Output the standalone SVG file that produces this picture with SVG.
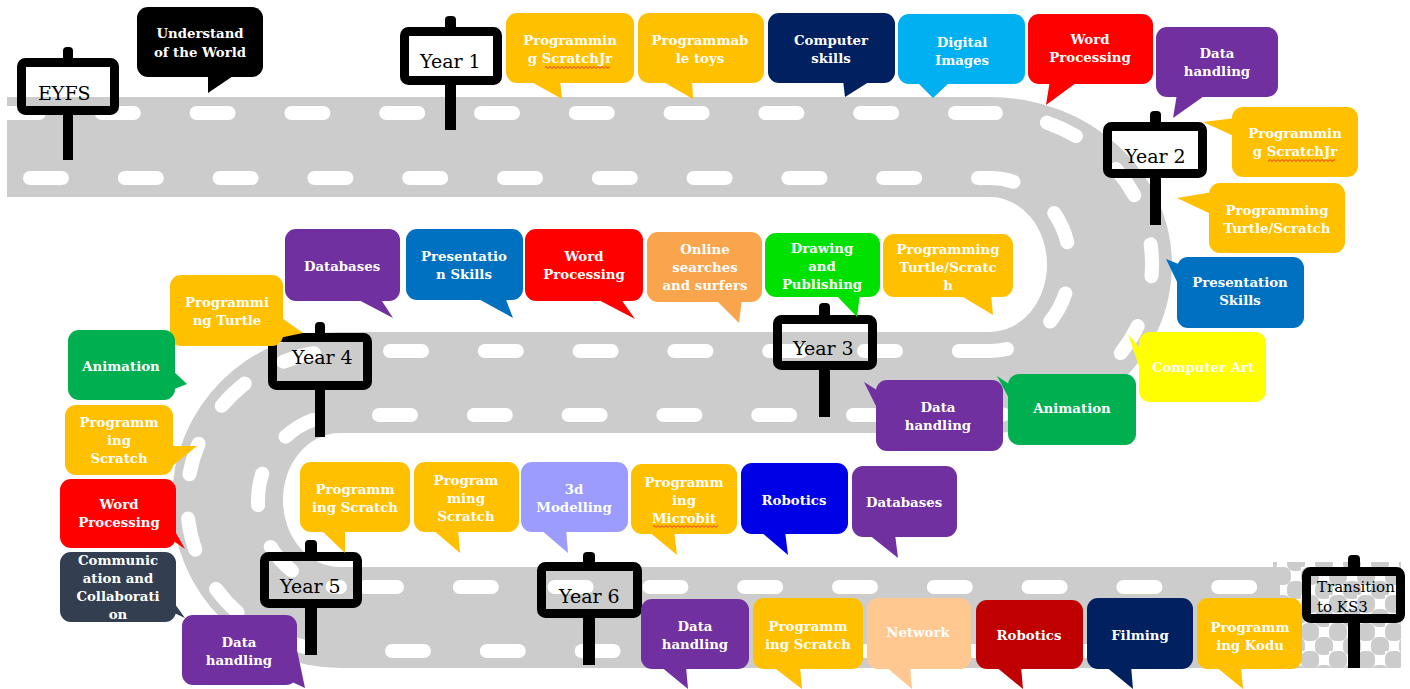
<svg xmlns="http://www.w3.org/2000/svg" width="1410" height="689" viewBox="0 0 1410 689">
  <style>
    .road { fill: #cccccc; }
    .dash { fill: none; stroke: #ffffff; stroke-width: 14; stroke-linecap: round; stroke-dasharray: 32 62.8; }
    .frame { fill: none; stroke: #000000; stroke-width: 9; }
    .post { fill: #000000; }
    .st { font-family: "DejaVu Serif", "Liberation Serif", serif; font-size: 19px; fill: #000000; }
    .bt { font-family: "DejaVu Serif", "Liberation Serif", serif; font-size: 13.3px; font-weight: bold; fill: #ffffff; text-anchor: middle; }
    .k { fill: #000000; }
    .yel { fill: #FFC000; }
    .navy { fill: #002060; }
    .sky { fill: #00B0F0; }
    .red { fill: #FF0000; }
    .pur { fill: #7030A0; }
    .blue { fill: #0070C0; }
    .lor { fill: #F9A54D; }
    .lime { fill: #00E100; }
    .grn { fill: #00B050; }
    .ylw { fill: #FFFF00; }
    .lav { fill: #9C9CFF; }
    .rbl { fill: #0000E6; }
    .pch { fill: #FFC891; }
    .dred { fill: #C00000; }
    .slate { fill: #333F50; }
    .spell { fill: url(#wavy); }
  </style>
  <defs>
    <clipPath id="roadClip">
      <path d="M7 97 H990 A182 168 0 0 1 990 433 H340 A57 67 0 0 0 340 567 H1280 V668 H340 A168 168 0 0 1 340 332 H990 A57 67.5 0 0 0 990 197 H7 Z"/>
    </clipPath>
    <pattern id="chk" x="1273" y="567" width="28" height="28" patternUnits="userSpaceOnUse">
      <rect x="0" y="0" width="18" height="18" rx="7" fill="#cccccc"/>
      <rect x="14" y="14" width="18" height="18" rx="7" fill="#cccccc"/>
      <rect x="-14" y="14" width="18" height="18" rx="7" fill="#cccccc"/>
      <rect x="14" y="-14" width="18" height="18" rx="7" fill="#cccccc"/>
    </pattern>
    <pattern id="wavy" x="0" y="0" width="4" height="3" patternUnits="userSpaceOnUse">
      <path d="M0 2.4 L2 0.6 L4 2.4" fill="none" stroke="#e8282d" stroke-width="0.9"/>
    </pattern>
  </defs>

  <rect width="1410" height="689" fill="#ffffff"/>

  <!-- the winding road -->
  <g id="road">
    <path class="road" d="M7 97 H990 A182 168 0 0 1 990 433 H340 A57 67 0 0 0 340 567 H1280 V668 H340 A168 168 0 0 1 340 332 H990 A57 67.5 0 0 0 990 197 H7 Z"/>
    <rect x="1273" y="562" width="128" height="106" fill="url(#chk)"/>
    <g clip-path="url(#roadClip)">
      <path class="dash" d="M7 113 H990"/>
      <path class="dash" d="M30 178 H990"/>
      <path class="dash" d="M990 113 A162 151 0 0 1 990 415" style="stroke-dasharray:32 52;stroke-dashoffset:26"/>
      <path class="dash" d="M990 178 A80 86.5 0 0 1 990 351" style="stroke-dasharray:32 52;stroke-dashoffset:8"/>
      <path class="dash" d="M390 351 H990"/>
      <path class="dash" d="M379 415 H990"/>
      <path class="dash" d="M340 351 A153 150 0 0 0 340 651" style="stroke-dasharray:32 44.5;stroke-dashoffset:50.5"/>
      <path class="dash" d="M340 415 A82 86 0 0 0 340 587" style="stroke-dasharray:32 44;stroke-dashoffset:48"/>
      <path class="dash" d="M365 587 H1275"/>
      <path class="dash" d="M392 651 H1275"/>
    </g>
  </g>

  <!-- signposts -->
  <g id="sign-eyfs">
    <rect class="post" x="63" y="47" width="10" height="16" rx="4"/>
    <rect class="post" x="63" y="110" width="10" height="50"/>
    <rect class="frame" x="21.5" y="62.5" width="93" height="48" rx="4"/>
    <text class="st" x="38" y="100">EYFS</text>
  </g>
  <g id="sign-year1">
    <rect class="post" x="445" y="16" width="11" height="16" rx="4"/>
    <rect class="post" x="445" y="80" width="11" height="50"/>
    <rect class="frame" x="404.5" y="31.5" width="93" height="49" rx="4"/>
    <text class="st" x="420" y="68">Year 1</text>
  </g>
  <g id="sign-year2">
    <rect class="post" x="1150" y="111" width="11" height="16" rx="4"/>
    <rect class="post" x="1150" y="173" width="11" height="52"/>
    <rect class="frame" x="1107.5" y="126.5" width="95" height="47" rx="4"/>
    <text class="st" x="1125" y="163">Year 2</text>
  </g>
  <g id="sign-year3">
    <rect class="post" x="819" y="303" width="11" height="16" rx="4"/>
    <rect class="post" x="819" y="365" width="11" height="52"/>
    <rect class="frame" x="777.5" y="319.5" width="95" height="46" rx="4"/>
    <text class="st" x="793" y="355">Year 3</text>
  </g>
  <g id="sign-year4">
    <rect class="post" x="315" y="322" width="10" height="16" rx="4"/>
    <rect class="post" x="315" y="385" width="10" height="52"/>
    <rect class="frame" x="272.5" y="337.5" width="95" height="48" rx="4"/>
    <text class="st" x="292" y="364">Year 4</text>
  </g>
  <g id="sign-year5">
    <rect class="post" x="305" y="540" width="12" height="16" rx="4"/>
    <rect class="post" x="305" y="603" width="12" height="52"/>
    <rect class="frame" x="264.5" y="556.5" width="93" height="47" rx="4"/>
    <text class="st" x="280" y="593">Year 5</text>
  </g>
  <g id="sign-year6">
    <rect class="post" x="583" y="552" width="12" height="16" rx="4"/>
    <rect class="post" x="583" y="613" width="12" height="52"/>
    <rect class="frame" x="541.5" y="566.5" width="96" height="47" rx="4"/>
    <text class="st" x="559" y="603">Year 6</text>
  </g>
  <g id="sign-ks3">
    <rect class="post" x="1348" y="555" width="12" height="16" rx="4"/>
    <rect class="post" x="1348" y="618" width="12" height="50"/>
    <rect class="frame" x="1306.5" y="571.5" width="94" height="47" rx="4"/>
    <text class="st" x="1317" y="592" style="font-size:15px">Transition</text>
    <text class="st" x="1317" y="612" style="font-size:15px">to KS3</text>
  </g>

  <!-- speech bubbles: EYFS and Year 1 -->
  <g id="eyfs-world" class="k">
    <rect x="137" y="7" width="126" height="70" rx="11"/>
    <polygon points="208,74 236,74 208,93"/>
    <text class="bt" x="200" y="38"><tspan x="200">Understand</tspan><tspan x="200" dy="19">of the World</tspan></text>
  </g>
  <g id="y1-scratchjr" class="yel">
    <rect x="506" y="13" width="128" height="70" rx="11"/>
    <polygon points="528,80 562,99 560,80"/>
    <text class="bt" x="570" y="45"><tspan x="570">Programmin</tspan><tspan x="570" dy="18">g ScratchJr</tspan></text>
    <rect class="spell" x="545" y="66" width="65" height="3"/>
  </g>
  <g id="y1-toys" class="yel">
    <rect x="638" y="13" width="126" height="70" rx="11"/>
    <polygon points="660,80 693,99 692,80"/>
    <text class="bt" x="700" y="45"><tspan x="700">Programmab</tspan><tspan x="700" dy="18">le toys</tspan></text>
  </g>
  <g id="y1-computer" class="navy">
    <rect x="768" y="13" width="127" height="70" rx="11"/>
    <polygon points="843,80 845,97 872,80"/>
    <text class="bt" x="831" y="45"><tspan x="831">Computer</tspan><tspan x="831" dy="18">skills</tspan></text>
  </g>
  <g id="y1-images" class="sky">
    <rect x="898" y="14" width="127" height="70" rx="11"/>
    <polygon points="915,80 933,98 952,80"/>
    <text class="bt" x="962" y="47"><tspan x="962">Digital</tspan><tspan x="962" dy="18">Images</tspan></text>
  </g>
  <g id="y1-word" class="red">
    <rect x="1028" y="14" width="125" height="70" rx="11"/>
    <polygon points="1050,80 1046,105 1080,80"/>
    <text class="bt" x="1090" y="44"><tspan x="1090">Word</tspan><tspan x="1090" dy="18">Processing</tspan></text>
  </g>
  <g id="y1-data" class="pur">
    <rect x="1156" y="27" width="122" height="70" rx="11"/>
    <polygon points="1177,94 1173,118 1207,94"/>
    <text class="bt" x="1217" y="58"><tspan x="1217">Data</tspan><tspan x="1217" dy="18">handling</tspan></text>
  </g>

  <!-- Year 2 -->
  <g id="y2-scratchjr" class="yel">
    <rect x="1232" y="107" width="126" height="70" rx="11"/>
    <polygon points="1236,118 1203,122 1236,137"/>
    <text class="bt" x="1295" y="138"><tspan x="1295">Programmin</tspan><tspan x="1295" dy="18">g ScratchJr</tspan></text>
    <rect class="spell" x="1268" y="159" width="67" height="3"/>
  </g>
  <g id="y2-turtle" class="yel">
    <rect x="1209" y="183" width="136" height="70" rx="11"/>
    <polygon points="1213,192 1177,198 1213,215"/>
    <text class="bt" x="1277" y="215"><tspan x="1277">Programming</tspan><tspan x="1277" dy="18">Turtle/Scratch</tspan></text>
  </g>
  <g id="y2-presentation" class="blue">
    <rect x="1177" y="257" width="127" height="71" rx="11"/>
    <polygon points="1181,265 1166,259 1181,290"/>
    <text class="bt" x="1240" y="287"><tspan x="1240">Presentation</tspan><tspan x="1240" dy="18">Skills</tspan></text>
  </g>
  <g id="y2-art" class="ylw">
    <rect x="1139" y="332" width="127" height="70" rx="11"/>
    <polygon points="1143,352 1128,334 1143,378"/>
    <text class="bt" x="1203" y="372">Computer Art</text>
  </g>
  <g id="y2-animation" class="grn">
    <rect x="1008" y="374" width="128" height="71" rx="11"/>
    <polygon points="1012,386 997,376 1012,404"/>
    <text class="bt" x="1072" y="413">Animation</text>
  </g>

  <!-- Year 3 -->
  <g id="y3-data" class="pur">
    <rect x="876" y="380" width="127" height="71" rx="11"/>
    <polygon points="880,392 864,382 880,414"/>
    <text class="bt" x="938" y="412"><tspan x="938">Data</tspan><tspan x="938" dy="18">handling</tspan></text>
  </g>
  <g id="y3-turtle" class="yel">
    <rect x="883" y="234" width="130" height="63" rx="11"/>
    <polygon points="958,294 993,315 991,294"/>
    <text class="bt" x="948" y="254"><tspan x="948">Programming</tspan><tspan x="948" dy="18">Turtle/Scratc</tspan><tspan x="948" dy="18">h</tspan></text>
  </g>
  <g id="y3-drawing" class="lime">
    <rect x="765" y="233" width="115" height="64" rx="11"/>
    <polygon points="835,294 857,317 860,294"/>
    <text class="bt" x="822" y="253"><tspan x="822">Drawing</tspan><tspan x="822" dy="18">and</tspan><tspan x="822" dy="18">Publishing</tspan></text>
  </g>
  <g id="y3-online" class="lor">
    <rect x="647" y="232" width="115" height="70" rx="11"/>
    <polygon points="715,299 739,323 742,299"/>
    <text class="bt" x="705" y="254"><tspan x="705">Online</tspan><tspan x="705" dy="18">searches</tspan><tspan x="705" dy="18">and surfers</tspan></text>
  </g>
  <g id="y3-word" class="red">
    <rect x="525" y="229" width="118" height="72" rx="11"/>
    <polygon points="595,298 635,319 620,298"/>
    <text class="bt" x="584" y="261"><tspan x="584">Word</tspan><tspan x="584" dy="18">Processing</tspan></text>
  </g>
  <g id="y3-presentation" class="blue">
    <rect x="406" y="229" width="117" height="71" rx="11"/>
    <polygon points="475,297 513,318 505,297"/>
    <text class="bt" x="464" y="261"><tspan x="464">Presentatio</tspan><tspan x="464" dy="18">n Skills</tspan></text>
  </g>

  <!-- Year 4 -->
  <g id="y4-databases" class="pur">
    <rect x="285" y="229" width="115" height="72" rx="11"/>
    <polygon points="355,298 393,318 380,298"/>
    <text class="bt" x="342" y="271">Databases</text>
  </g>
  <g id="y4-turtle" class="yel">
    <rect x="170" y="275" width="113" height="71" rx="11"/>
    <polygon points="279,316 303,333 279,338"/>
    <text class="bt" x="227" y="307"><tspan x="227">Programmi</tspan><tspan x="227" dy="18">ng Turtle</tspan></text>
  </g>
  <g id="y4-animation" class="grn">
    <rect x="68" y="330" width="107" height="70" rx="11"/>
    <polygon points="172,370 187,384 172,390"/>
    <text class="bt" x="121" y="371">Animation</text>
  </g>
  <g id="y4-scratch" class="yel">
    <rect x="65" y="405" width="108" height="70" rx="11"/>
    <polygon points="170,446 197,446 170,468"/>
    <text class="bt" x="119" y="427"><tspan x="119">Programm</tspan><tspan x="119" dy="18">ing</tspan><tspan x="119" dy="18">Scratch</tspan></text>
  </g>
  <g id="y4-word" class="red">
    <rect x="60" y="479" width="116" height="69" rx="11"/>
    <polygon points="172,526 185,549 172,540"/>
    <text class="bt" x="119" y="509"><tspan x="119">Word</tspan><tspan x="119" dy="18">Processing</tspan></text>
  </g>

  <!-- Year 5 -->
  <g id="y5-communication" class="slate">
    <rect x="60" y="552" width="116" height="70" rx="11"/>
    <polygon points="172,600 185,618 172,612"/>
    <text class="bt" x="118" y="565"><tspan x="118">Communic</tspan><tspan x="118" dy="18">ation and</tspan><tspan x="118" dy="18">Collaborati</tspan><tspan x="118" dy="18">on</tspan></text>
  </g>
  <g id="y5-data" class="pur">
    <rect x="182" y="615" width="115" height="70" rx="11"/>
    <polygon points="292,682 305,688 297,650"/>
    <text class="bt" x="239" y="647"><tspan x="239">Data</tspan><tspan x="239" dy="18">handling</tspan></text>
  </g>
  <g id="y5-scratch-a" class="yel">
    <rect x="300" y="462" width="110" height="70" rx="11"/>
    <polygon points="320,529 345,553 345,529"/>
    <text class="bt" x="355" y="494"><tspan x="355">Programm</tspan><tspan x="355" dy="18">ing Scratch</tspan></text>
  </g>
  <g id="y5-scratch-b" class="yel">
    <rect x="414" y="462" width="105" height="70" rx="11"/>
    <polygon points="432,529 460,553 458,529"/>
    <text class="bt" x="466" y="485"><tspan x="466">Program</tspan><tspan x="466" dy="18">ming</tspan><tspan x="466" dy="18">Scratch</tspan></text>
  </g>
  <g id="y5-modelling" class="lav">
    <rect x="521" y="462" width="107" height="70" rx="11"/>
    <polygon points="540,529 568,553 566,529"/>
    <text class="bt" x="574" y="494"><tspan x="574">3d</tspan><tspan x="574" dy="18">Modelling</tspan></text>
  </g>
  <g id="y5-microbit" class="yel">
    <rect x="631" y="464" width="106" height="70" rx="11"/>
    <polygon points="648,531 677,555 674,531"/>
    <text class="bt" x="684" y="487"><tspan x="684">Programm</tspan><tspan x="684" dy="18">ing</tspan><tspan x="684" dy="18">Microbit</tspan></text>
    <rect class="spell" x="653" y="525" width="65" height="3"/>
  </g>
  <g id="y5-robotics" class="rbl">
    <rect x="741" y="463" width="107" height="71" rx="11"/>
    <polygon points="760,531 788,555 785,531"/>
    <text class="bt" x="794" y="505">Robotics</text>
  </g>
  <g id="y5-databases" class="pur">
    <rect x="852" y="466" width="105" height="71" rx="11"/>
    <polygon points="868,534 898,558 895,534"/>
    <text class="bt" x="904" y="507">Databases</text>
  </g>

  <!-- Year 6 -->
  <g id="y6-data" class="pur">
    <rect x="641" y="599" width="108" height="70" rx="11"/>
    <polygon points="660,666 688,689 686,666"/>
    <text class="bt" x="695" y="631"><tspan x="695">Data</tspan><tspan x="695" dy="18">handling</tspan></text>
  </g>
  <g id="y6-scratch" class="yel">
    <rect x="753" y="598" width="110" height="71" rx="11"/>
    <polygon points="772,666 802,689 800,666"/>
    <text class="bt" x="808" y="631"><tspan x="808">Programm</tspan><tspan x="808" dy="18">ing Scratch</tspan></text>
  </g>
  <g id="y6-network" class="pch">
    <rect x="867" y="598" width="104" height="71" rx="11"/>
    <polygon points="885,666 912,689 910,666"/>
    <text class="bt" x="918" y="637">Network</text>
  </g>
  <g id="y6-robotics" class="dred">
    <rect x="976" y="600" width="107" height="69" rx="11"/>
    <polygon points="995,666 1023,689 1021,666"/>
    <text class="bt" x="1029" y="640">Robotics</text>
  </g>
  <g id="y6-filming" class="navy">
    <rect x="1087" y="598" width="106" height="71" rx="11"/>
    <polygon points="1105,666 1133,689 1131,666"/>
    <text class="bt" x="1140" y="640">Filming</text>
  </g>
  <g id="y6-kodu" class="yel">
    <rect x="1197" y="598" width="105" height="71" rx="11"/>
    <polygon points="1215,666 1243,689 1241,666"/>
    <text class="bt" x="1250" y="632"><tspan x="1250">Programm</tspan><tspan x="1250" dy="18">ing Kodu</tspan></text>
  </g>
</svg>
